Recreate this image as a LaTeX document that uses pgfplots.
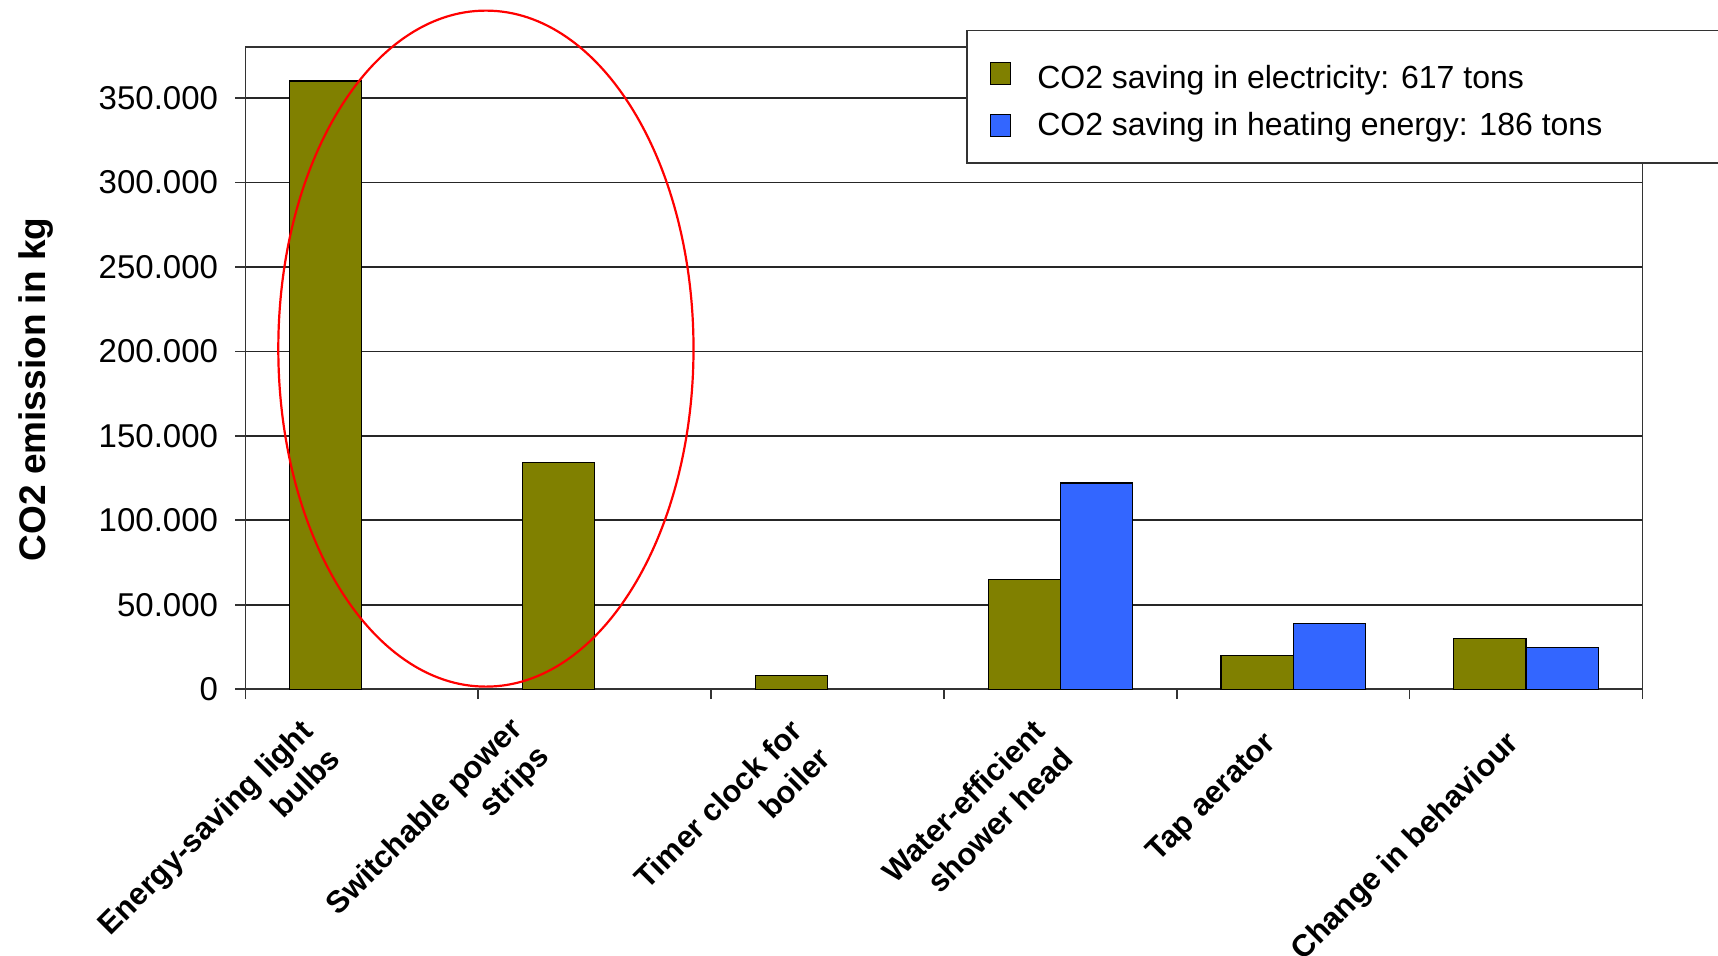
\documentclass[border=0pt]{standalone}
\usepackage{fontspec}
\setmainfont{Liberation Sans}
\usepackage{pgfplots}
\pgfplotsset{compat=1.18}
\definecolor{olivebar}{RGB}{128,128,0}
\definecolor{bluebar}{RGB}{51,102,255}
\pgfplotsset{sqlegend/.style={legend image code/.code={\draw[##1, draw=black, line width=0.6pt] (0pt,-5.5pt) rectangle (10pt,5.5pt);}}}
\begin{document}
\begin{tikzpicture}
\useasboundingbox (-122.7pt,-133.1pt) rectangle (736.3pt,344.6pt);
\clip (-122.7pt,-133.1pt) rectangle (736.3pt,344.6pt);
\begin{axis}[
  at={(0pt,0pt)}, anchor=south west,
  scale only axis, width=698.5pt, height=321pt,
  clip=false,
  xmin=-0.5, xmax=5.5, ymin=0, ymax=380000,
  axis line style={black!80, line width=0.8pt},
  xtick={-0.5,0.5,1.5,2.5,3.5,4.5,5.5}, xticklabels={,,,,,,},
  ytick={0,50000,100000,150000,200000,250000,300000,350000},
  yticklabels={0,50.000,100.000,150.000,200.000,250.000,300.000,350.000},
  xtick pos=bottom, ytick pos=left, tick align=outside,
  major tick length=5pt,
  tick style={black!80, line width=0.8pt},
  ymajorgrids, grid style={black!85, line width=0.8pt},
  scaled y ticks=false,
  yticklabel style={font=\fontsize{16.5}{20}\selectfont, inner sep=0pt, xshift=-8.5pt},
  extra x ticks={-0.177,0.731,1.927,2.970,3.908,4.953},
  extra x tick labels={{Energy-saving light\\bulbs},{Switchable power\\strips},{Timer clock for\\boiler},{Water-efficient\\shower head},{Tap aerator},{Change in behaviour}},
  extra x tick style={major tick length=0pt, xticklabel style={yshift=-24.9pt, rotate=45, anchor=east, align=right, inner sep=0pt, font=\fontsize{15.5}{19.5}\selectfont\bfseries}},
  ylabel={CO2 emission in kg},
  every axis y label/.style={at={(rel axis cs:-0.1498,0.467)}, rotate=90, anchor=center, font=\fontsize{18.5}{21}\selectfont\bfseries},
  legend style={at={(0.516,1.027)}, anchor=north west, draw=black!80, line width=0.8pt,
    font=\fontsize{16}{19}\selectfont, nodes={inner sep=0pt}, column sep=13pt, row sep=10.2pt,
    inner xsep=11.5pt, inner ysep=12.5pt},
  legend cell align=left,
]
\addplot[ybar, sqlegend, bar width=0.31, bar shift=-0.155, fill=olivebar, draw=black, line width=0.6pt]
  coordinates {(0,360000) (1,134000) (2,8000) (3,65000) (4,20000) (5,30000)};
\addlegendentry{\makebox[360pt][l]{\rule{0pt}{16.5pt}CO2 saving in electricity: 617 tons}}
\addplot[ybar, sqlegend, bar width=0.31, bar shift=0.155, fill=bluebar, draw=black, line width=0.6pt]
  coordinates {(3,122000) (4,39000) (5,24700)};
\addlegendentry{\makebox[360pt][l]{CO2 saving in heating energy: 186 tons}}
\draw[red, line width=1.1pt] (axis cs:0.533,201600) ellipse [x radius=103.8pt, y radius=169pt];
\end{axis}
\end{tikzpicture}
\end{document}
